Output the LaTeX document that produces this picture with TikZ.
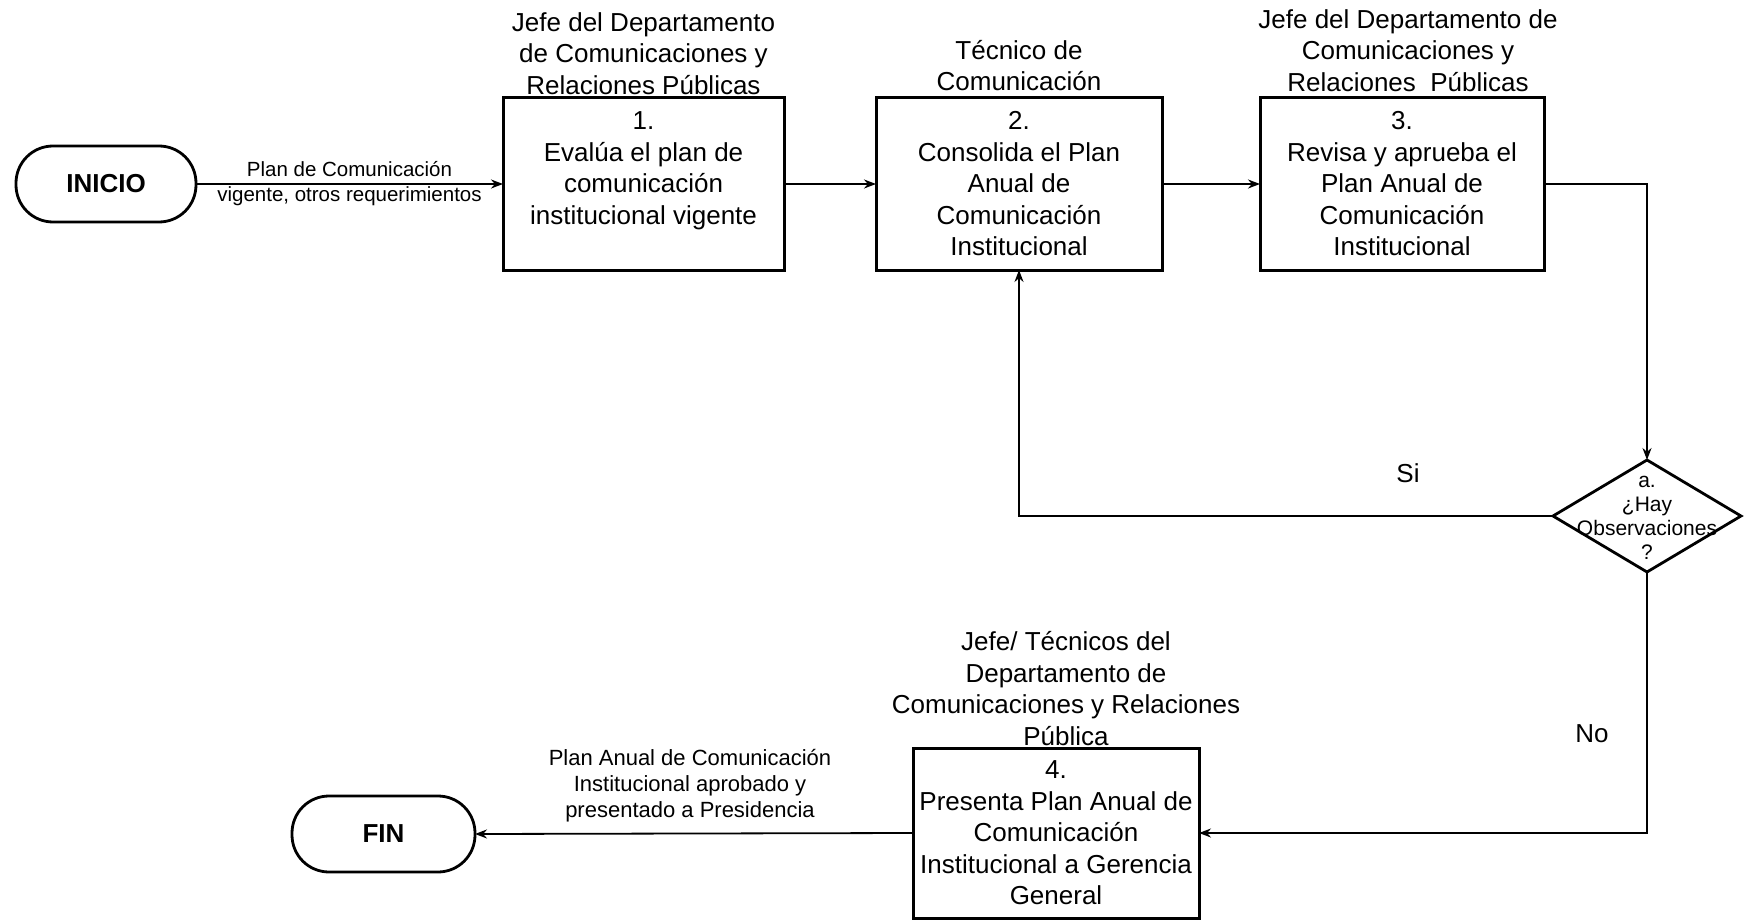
\documentclass[tikz,border=0pt]{standalone}
\usepackage{fontspec}
\setmainfont{Liberation Sans}
\usetikzlibrary{shapes.geometric,arrows.meta}
\begin{document}
\begin{tikzpicture}[x=1pt,y=-1pt,
  every node/.style={inner sep=0pt, outer sep=0pt},
  box/.style={draw, line width=3pt, align=center, font=\fontsize{26}{31.5}\selectfont},
  term/.style={draw, line width=2.8pt, rounded corners=37pt, minimum height=76pt, font=\fontsize{26}{31}\selectfont\bfseries},
  role/.style={align=center, font=\fontsize{26}{31.5}\selectfont},
  lbl/.style={align=center, font=\fontsize{20.5}{25}\selectfont},
  lblb/.style={align=center, font=\fontsize{22}{26}\selectfont},
  conn/.style={line width=1.8pt, -{Stealth[length=12pt,width=9pt]}},
  line/.style={line width=1.8pt}
]
\path[use as bounding box] (0,0) rectangle (1748,920);

% terminals
\node[term, minimum width=180pt] (inicio) at (106,184) {INICIO};
\node[term, minimum width=183pt] (fin) at (383.5,834) {FIN};

% process boxes
\node[box, minimum width=281pt, minimum height=172pt] (b1) at (643.5,184)
  {1.\\Evalúa el plan de\\comunicación\\institucional vigente\\\mbox{}};
\node[box, minimum width=286pt, minimum height=172pt] (b2) at (1019,184)
  {2.\\Consolida el Plan\\Anual de\\Comunicación\\Institucional};
\node[box, minimum width=284pt, minimum height=172pt] (b3) at (1402,184)
  {3.\\Revisa y aprueba el\\Plan Anual de\\Comunicación\\Institucional};
\node[box, minimum width=286pt, minimum height=170pt] (b4) at (1056,833)
  {4.\\Presenta Plan Anual de\\Comunicación\\Institucional a Gerencia\\General};

% decision
\node[draw, diamond, line width=2.8pt, minimum width=188pt, minimum height=112pt] (dia) at (1647,516) {};
\node[align=center, font=\fontsize{21}{24}\selectfont] (diatxt) at (1647,518)
  {a.\\¿Hay\\Observaciones\\?};

% role labels
\node[role] (r1) at (643.5,53.5) {Jefe del Departamento\\de Comunicaciones y\\Relaciones Públicas};
\node[role] (r2) at (1019,65.5) {Técnico de\\Comunicación};
\node[role] (r3) at (1408,50.5) {Jefe del Departamento de\\Comunicaciones y\\Relaciones \ Públicas};
\node[role] (r4) at (1066,688.5) {Jefe/ Técnicos del\\Departamento de\\Comunicaciones y Relaciones\\Pública};

% connectors
\draw[conn] (inicio) -- node[lbl] (l1) {Plan de Comunicación\\vigente, otros requerimientos} (b1);
\draw[conn] (b1) -- (b2);
\draw[conn] (b2) -- (b3);
\draw[conn] (b3.east) -| (dia.north);
\draw[conn] (dia.west) -| (b2.south);
\draw[conn] (dia.south) |- (b4.east);
\draw[conn] (b4.west) -- (fin.east);

% connector labels
\node[lblb] (l2) at (690,786) {Plan Anual de Comunicación\\Institucional aprobado y\\presentado a Presidencia};
\node[font=\fontsize{26}{31}\selectfont] (si) at (1408,473) {Si};
\node[font=\fontsize{26}{31}\selectfont] (no) at (1592,734) {No};
\end{tikzpicture}
\end{document}
